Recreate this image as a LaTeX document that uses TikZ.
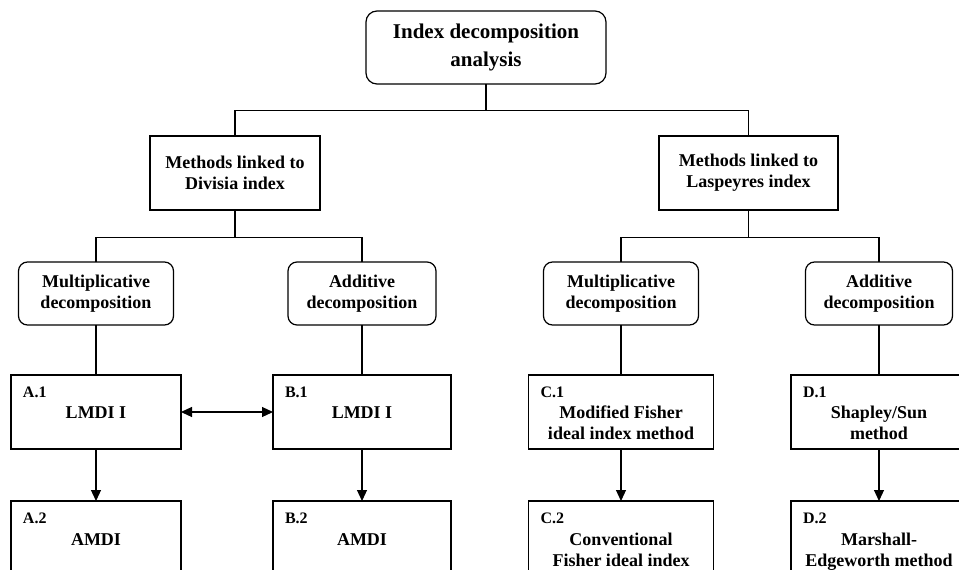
\documentclass[tikz,border=0pt]{standalone}
\usepackage{fontspec}
\setmainfont{Liberation Serif}
\usetikzlibrary{arrows.meta,calc}
\begin{document}
\begin{tikzpicture}[x=1pt,y=-1pt,
  line width=1.2pt,
  every node/.style={inner sep=0pt, outer sep=0pt},
  rbox/.style={draw, rounded corners=9pt, align=center, font=\fontsize{18}{21}\selectfont\bfseries},
  sbox/.style={draw, align=center, font=\fontsize{18}{21}\selectfont\bfseries},
  ebox/.style={draw},
  lbl/.style={anchor=base west, font=\fontsize{16}{18}\selectfont\bfseries},
  txt/.style={anchor=north, align=center, font=\fontsize{18}{21}\selectfont\bfseries},
  arr/.style={-{Triangle[length=11pt,width=10pt]}},
  darr/.style={{Triangle[length=11pt,width=10pt]}-{Triangle[length=11pt,width=10pt]}},
]
\useasboundingbox (0,0) rectangle (959,570);
\clip (0,0) rectangle (959,570);

% level 1
\node[rbox, rounded corners=11pt, minimum width=240pt, minimum height=73pt,
      font=\fontsize{21}{28}\selectfont\bfseries] (top) at (486,47.5) {Index decomposition\\analysis};

% level 2
\node[sbox, minimum width=170pt, minimum height=74pt] (mL) at (235,173) {Methods linked to\\Divisia index};
\node[sbox, minimum width=179pt, minimum height=74pt] (mR) at (748.5,173) {Methods linked to\\Laspeyres index};

% level 3
\node[rbox, minimum width=155pt, minimum height=63pt] (dA) at (96,293.5) {Multiplicative\\decomposition};
\node[rbox, minimum width=148pt, minimum height=63pt] (dB) at (362,293.5) {Additive\\decomposition};
\node[rbox, minimum width=155pt, minimum height=63pt] (dC) at (621,293.5) {Multiplicative\\decomposition};
\node[rbox, minimum width=147pt, minimum height=63pt] (dD) at (879,293.5) {Additive\\decomposition};

% level 4
\node[ebox, minimum width=170pt, minimum height=74pt] (a1) at (96,412) {};
\node[ebox, minimum width=178pt, minimum height=74pt] (b1) at (362,412) {};
\node[ebox, minimum width=185pt, minimum height=74pt] (c1) at (621,412) {};
\node[ebox, minimum width=176pt, minimum height=74pt] (d1) at (879,412) {};

% level 5
\node[ebox, minimum width=170pt, minimum height=100pt] (a2) at (96,551) {};
\node[ebox, minimum width=178pt, minimum height=100pt] (b2) at (362,551) {};
\node[ebox, minimum width=185pt, minimum height=100pt] (c2) at (621,551) {};
\node[ebox, minimum width=176pt, minimum height=100pt] (d2) at (879,551) {};

% labels and texts
\node[lbl] (a1l) at ($(a1.north west)+(12,22)$) {A.1};
\node[lbl] (b1l) at ($(b1.north west)+(12,22)$) {B.1};
\node[lbl] (c1l) at ($(c1.north west)+(12,22)$) {C.1};
\node[lbl] (d1l) at ($(d1.north west)+(12,22)$) {D.1};
\node[txt] (a1t) at ($(a1.north)+(0,31.3)$) {LMDI I};
\node[txt] (b1t) at ($(b1.north)+(0,31.3)$) {LMDI I};
\node[txt] (c1t) at ($(c1.north)+(0,30.7)$) {Modified Fisher\\ideal index method};
\node[txt] (d1t) at ($(d1.north)+(0,30.7)$) {Shapley/Sun\\method};

\node[lbl] (a2l) at ($(a2.north west)+(12,22)$) {A.2};
\node[lbl] (b2l) at ($(b2.north west)+(12,22)$) {B.2};
\node[lbl] (c2l) at ($(c2.north west)+(12,22)$) {C.2};
\node[lbl] (d2l) at ($(d2.north west)+(12,22)$) {D.2};
\node[txt] (a2t) at ($(a2.north)+(0,32.3)$) {AMDI};
\node[txt] (b2t) at ($(b2.north)+(0,32.3)$) {AMDI};
\node[txt] (c2t) at ($(c2.north)+(0,31.7)$) {Conventional\\Fisher ideal index};
\node[txt] (d2t) at ($(d2.north)+(0,31.7)$) {Marshall-\\Edgeworth method};

% connectors
\coordinate (j1) at (486,110.5);
\coordinate (j2) at (235,237.5);
\coordinate (j3) at (748.5,237.5);
\draw (top.south) -- (j1);
\draw (mL.north) |- (j1) -| (mR.north);
\draw (mL.south) -- (j2);
\draw (dA.north) |- (j2) -| (dB.north);
\draw (mR.south) -- (j3);
\draw (dC.north) |- (j3) -| (dD.north);

\draw (dA.south) -- (a1.north);
\draw (dB.south) -- (b1.north);
\draw (dC.south) -- (c1.north);
\draw (dD.south) -- (d1.north);

\draw[arr] (a1.south) -- (a2.north);
\draw[arr] (b1.south) -- (b2.north);
\draw[arr] (c1.south) -- (c2.north);
\draw[arr] (d1.south) -- (d2.north);

\draw[darr] (a1.east) -- (b1.west);
\end{tikzpicture}
\end{document}
